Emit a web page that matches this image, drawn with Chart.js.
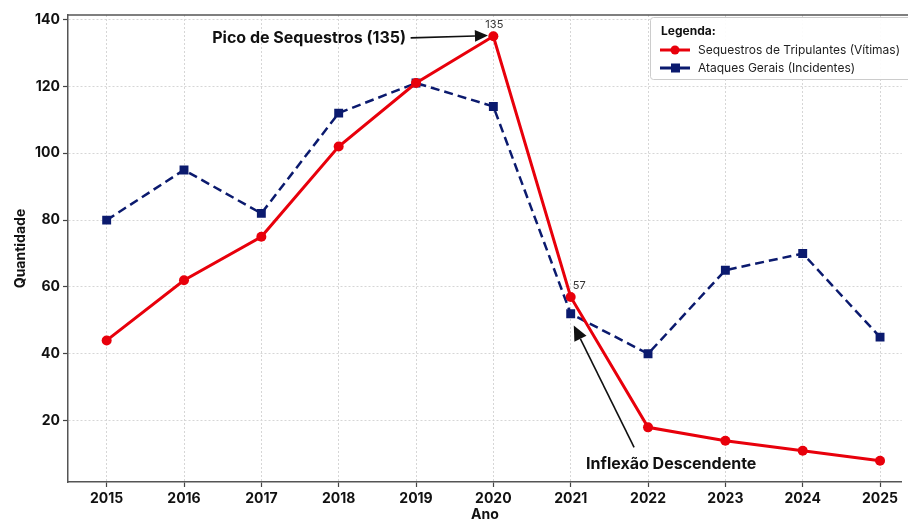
<!DOCTYPE html>
<html>
<head>
<meta charset="utf-8">
<script src="https://cdn.jsdelivr.net/npm/chart.js@4.4.0/dist/chart.umd.min.js"></script>
<style>
  html, body { margin: 0; padding: 0; background: #fff; }
  #wrap { position: relative; width: 908px; height: 523px; }
</style>
</head>
<body>
<div id="wrap"><canvas id="chart" width="908" height="523"></canvas></div>
<script>
"use strict";

const years = [2015, 2016, 2017, 2018, 2019, 2020, 2021, 2022, 2023, 2024, 2025];
const sequestros = [44, 62, 75, 102, 121, 135, 57, 18, 14, 11, 8];
const ataques = [80, 95, 82, 112, 121, 114, 52, 40, 65, 70, 45];
const yTicks = [20, 40, 60, 80, 100, 120, 140];
const FONT = "Inter, 'DejaVu Sans', sans-serif";

const toPoints = (vals) => years.map((y, i) => ({ x: y, y: vals[i] }));

function arrow(ctx, x1, y1, x2, y2, head) {
    const ang = Math.atan2(y2 - y1, x2 - x1);
    const bx = x2 - head * Math.cos(ang), by = y2 - head * Math.sin(ang);
    ctx.beginPath();
    ctx.moveTo(x1, y1);
    ctx.lineTo(bx, by);
    ctx.stroke();
    ctx.beginPath();
    ctx.moveTo(x2, y2);
    ctx.lineTo(bx + head * 0.45 * Math.sin(ang), by - head * 0.45 * Math.cos(ang));
    ctx.lineTo(bx - head * 0.45 * Math.sin(ang), by + head * 0.45 * Math.cos(ang));
    ctx.closePath();
    ctx.fill();
}

const annotations = {
    id: "annotations",
    afterDatasetsDraw(chart) {
        const ctx = chart.ctx;
        const xs = chart.scales.x, ys = chart.scales.y;
        const area = chart.chartArea;
        ctx.save();
        // top spine
        ctx.strokeStyle = "#555";
        ctx.lineWidth = 1.5;
        ctx.beginPath();
        ctx.moveTo(area.left, area.top);
        ctx.lineTo(chart.width, area.top);
        ctx.stroke();

        // small value labels
        ctx.fillStyle = "#333";
        ctx.font = "11px " + FONT;
        ctx.textAlign = "left";
        ctx.textBaseline = "alphabetic";
        ctx.fillText("135", xs.getPixelForValue(2020) - 8, ys.getPixelForValue(135) - 8);
        ctx.fillText("57", xs.getPixelForValue(2021) + 2, ys.getPixelForValue(57) - 8);

        // peak annotation
        ctx.fillStyle = "#111";
        ctx.strokeStyle = "#111";
        ctx.lineWidth = 1.6;
        ctx.font = "bold 16px " + FONT;
        ctx.textAlign = "right";
        ctx.textBaseline = "middle";
        const py = ys.getPixelForValue(134.5);
        ctx.fillText("Pico de Sequestros (135)", xs.getPixelForValue(2018.87), py);
        arrow(ctx, xs.getPixelForValue(2018.93), py, xs.getPixelForValue(2019.93), ys.getPixelForValue(135.2), 13);

        // inflexion annotation
        ctx.textAlign = "center";
        ctx.fillText("Inflexão Descendente", xs.getPixelForValue(2022.3), ys.getPixelForValue(7));
        arrow(ctx, xs.getPixelForValue(2021.82), ys.getPixelForValue(12),
            xs.getPixelForValue(2021.04), ys.getPixelForValue(48.5), 15);

        // legend
        const lx = 650, ly = 17, lw = 270, lh = 62;
        ctx.fillStyle = "rgba(255,255,255,0.92)";
        ctx.strokeStyle = "#ccc";
        ctx.lineWidth = 1;
        ctx.beginPath();
        ctx.roundRect(lx + 0.5, ly + 0.5, lw, lh, 3);
        ctx.fill();
        ctx.stroke();
        ctx.fillStyle = "#111";
        ctx.textAlign = "left";
        ctx.font = "bold 12px " + FONT;
        ctx.fillText("Legenda:", lx + 11, ly + 14);
        chart.data.datasets.forEach((ds, i) => {
            const yy = ly + 33 + i * 18;
            ctx.strokeStyle = ds.borderColor;
            ctx.fillStyle = ds.borderColor;
            ctx.lineWidth = 3;
            ctx.setLineDash([]);
            ctx.beginPath();
            ctx.moveTo(lx + 10, yy);
            ctx.lineTo(lx + 40, yy);
            ctx.stroke();
            if (ds.pointStyle === "rect") {
                ctx.fillRect(lx + 21, yy - 4.5, 9, 9);
            } else {
                ctx.beginPath();
                ctx.arc(lx + 25, yy, 4.5, 0, Math.PI * 2);
                ctx.fill();
            }
            ctx.fillStyle = "#222";
            ctx.font = "12px " + FONT;
            ctx.fillText(ds.label, lx + 48, yy);
        });
        ctx.restore();
    }
};

new Chart(document.getElementById("chart"), {
    type: "line",
    data: {
        datasets: [{
            label: "Sequestros de Tripulantes (Vítimas)",
            data: toPoints(sequestros),
            borderColor: "#e8000b",
            backgroundColor: "#e8000b",
            borderWidth: 3,
            pointStyle: "circle",
            pointRadius: 5,
            pointBorderWidth: 0,
            pointHoverRadius: 5,
            tension: 0
        }, {
            label: "Ataques Gerais (Incidentes)",
            data: toPoints(ataques),
            borderColor: "#0b1a6e",
            backgroundColor: "#0b1a6e",
            borderWidth: 2.5,
            borderDash: [9, 5],
            pointStyle: "rect",
            pointRadius: 6.3,
            pointBorderWidth: 0,
            pointHoverRadius: 6.3,
            tension: 0
        }]
    },
    options: {
        responsive: false,
        animation: false,
        events: [],
        layout: { padding: { top: 15, right: 0, left: 0, bottom: 0 } },
        plugins: {
            legend: { display: false },
            tooltip: { enabled: false }
        },
        scales: {
            x: {
                type: "linear",
                min: 2014.5,
                max: 2025.28,
                afterBuildTicks: (s) => { s.ticks = years.map(v => ({ value: v })); },
                afterFit: (s) => { s.height = 41; s.paddingRight = 0; s.paddingLeft = 0; },
                grid: { color: "#d6d6d6", lineWidth: 1, tickColor: "#444", tickLength: 5, tickWidth: 1.2 },
                border: { color: "#555", width: 1.5, dash: [2, 2] },
                ticks: {
                    color: "#111",
                    padding: 3,
                    maxRotation: 0,
                    font: { family: FONT, size: 14, weight: "bold" },
                    callback: (v) => String(v)
                },
                title: {
                    display: true,
                    text: "Ano",
                    color: "#111",
                    padding: { top: 0, bottom: 0 },
                    font: { family: FONT, size: 14, weight: "bold" }
                }
            },
            y: {
                min: 1.65,
                max: 141.35,
                afterBuildTicks: (s) => { s.ticks = yTicks.map(v => ({ value: v })); },
                afterFit: (s) => { s.width = 68; s.paddingTop = 0; s.paddingBottom = 0; },
                grid: { color: "#d6d6d6", lineWidth: 1, tickColor: "#444", tickLength: 5, tickWidth: 1.2 },
                border: { color: "#555", width: 1.5, dash: [2, 2] },
                ticks: {
                    color: "#111",
                    padding: 3,
                    font: { family: FONT, size: 14, weight: "bold" }
                },
                title: {
                    display: true,
                    text: "Quantidade",
                    color: "#111",
                    padding: { top: 12, bottom: 4 },
                    font: { family: FONT, size: 14, weight: "bold" }
                }
            }
        }
    },
    plugins: [annotations]
});
</script>
</body>
</html>
